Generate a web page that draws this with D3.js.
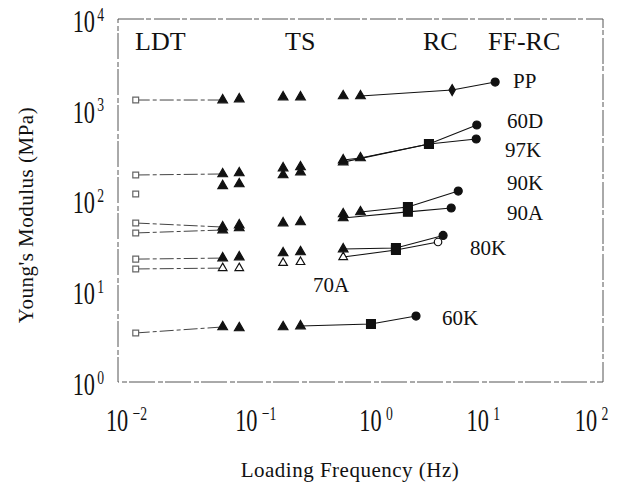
<!DOCTYPE html>
<html>
<head>
<meta charset="utf-8">
<script src="https://cdn.jsdelivr.net/npm/d3@7"></script>
<style>
  body { margin: 0; background: #fff; }
  text { font-family: "Liberation Serif", "DejaVu Serif", serif; fill: #111; }
</style>
</head>
<body>
<div id="chart"></div>
<script>
// ticks
const xTicks = [1e-2, 1e-1, 1, 10, 100];
const yTicks = [1, 10, 100, 1000, 10000];
const xExp = ["−2", "−1", "0", "1", "2"];
const yExp = ["0", "1", "2", "3", "4"];

// test methods shown on top
const methods = ["LDT", "TS", "RC", "FF-RC"];

// series: [frequency Hz, modulus MPa, test]
const seriesNames = ["PP", "60D", "97K", "90K", "90A", "80K", "70A", "60K"];
const pp  = [[0.014,1280,"LDT"],[0.073,1280,"TS"],[0.10,1313,"TS"],[0.23,1381,"TS"],[0.32,1381,"TS"],[0.72,1418,"TS"],[1.0,1418,"TS"],[5.7,1650,"RCd"],[12.9,2020,"FF"]];
const d60 = [[0.014,191,"LDT"],[0.073,196,"TS"],[0.10,201,"TS"],[0.23,228,"TS"],[0.32,234,"TS"],[0.72,279,"TS"],[1.0,294,"TS"],[3.67,420,"RC"],[9.1,679,"FF"]];
const k97 = [[0.014,118,"LDT"],[0.073,145,"TS"],[0.10,152,"TS"],[0.23,191,"TS"],[0.32,206,"TS"],[0.72,265,"TS"],[3.67,420,"RC"],[9.0,476,"FF"]];
const k90 = [[0.014,56.5,"LDT"],[0.073,51,"TS"],[0.10,53.7,"TS"],[0.23,56.5,"TS"],[0.32,58,"TS"],[0.72,71,"TS"],[1.0,74.7,"TS"],[2.46,84.8,"RC"],[6.4,127,"FF"]];
const a90 = [[0.014,43.9,"LDT"],[0.073,47.3,"TS"],[0.10,49.8,"TS"],[0.72,64.2,"TS"],[2.46,75,"RC"],[5.6,82.7,"FF"]];
const k80 = [[0.014,22.6,"LDT"],[0.073,23.2,"TS"],[0.10,23.8,"TS"],[0.23,26.4,"TS"],[0.32,27.1,"TS"],[0.72,29.2,"TS"],[1.96,30.0,"RC"],[4.8,41.2,"FF"]];
const a70 = [[0.014,17.6,"LDT"],[0.073,18,"TSo"],[0.10,18,"TSo"],[0.23,20.5,"TSo"],[0.32,21,"TSo"],[0.72,23.8,"TSo"],[1.96,28.5,"RC"],[4.36,34.9,"FFo"]];
const k60 = [[0.014,3.47,"LDT"],[0.073,4.04,"TS"],[0.10,3.94,"TS"],[0.23,4.04,"TS"],[0.32,4.14,"TS"],[1.22,4.36,"RC"],[2.87,5.33,"FF"]];
const seriesData = [pp, d60, k97, k90, a90, k80, a70, k60];
// solid RC line starts at this frequency; LDT joined to first TS point or not
const solidFrom = [1.0, 0.72, 0.72, 1.0, 0.72, 0.72, 0.72, 0.32];
const ldtLinked = [true, true, false, true, true, true, true, true];

// layout
const width = 620, height = 490;
const margin = ({top: 19, right: 17, bottom: 108, left: 118});
const methodPos = [[135, 50], [285, 50], [423, 50], [488, 50]];
const labelPos = [[513, 88], [507, 128], [505, 157], [507, 190], [507, 220], [470, 255], [313, 292], [442, 325]];
const xLabelDx = [8, 16, 15, 1, -12];

const svg = d3.select("#chart")
    .append("svg")
    .attr("width", width)
    .attr("height", height);

const x = d3.scaleLog()
    .domain([1e-2, 1e2])
    .range([margin.left, width - margin.right]);

const y = d3.scaleLog()
    .domain([1, 1e4])
    .range([height - margin.bottom, margin.top]);

// frame
svg.append("rect")
    .attr("x", x(1e-2))
    .attr("y", y(1e4))
    .attr("width", x(1e2) - x(1e-2))
    .attr("height", y(1) - y(1e4))
    .attr("fill", "none")
    .attr("stroke", "#555")
    .attr("stroke-width", 1)
    .attr("stroke-dasharray", "26,2,5,3");

// power-of-ten labels
function powLabels(g, exps, anchor, shifts) {
    g.selectAll(".tick text").each(function(d, i) {
        const t = d3.select(this).text(null)
            .attr("text-anchor", anchor)
            .attr("x", shifts ? shifts[i] / 0.72 : null)
            .attr("transform", "scale(0.72,1)")
            .style("font-size", "31px");
        t.append("tspan").text("10");
        t.append("tspan").text(exps[i])
            .attr("dy", "-0.6em")
            .attr("dx", anchor == "middle" ? "6" : "3")
            .style("font-size", "19px");
    });
}

svg.append("g")
    .attr("transform", `translate(0,${y(1) + 9})`)
    .call(d3.axisBottom(x).tickValues(xTicks).tickSize(0).tickPadding(18).tickFormat(""))
    .call(g => g.select(".domain").remove())
    .call(g => powLabels(g, xExp, "middle", xLabelDx));

svg.append("g")
    .attr("transform", `translate(${x(1e-2) - 14},0)`)
    .call(d3.axisLeft(y).tickValues(yTicks).tickSize(0).tickPadding(0).tickFormat(""))
    .call(g => g.select(".domain").remove())
    .call(g => g.selectAll(".tick text").attr("dy", "0.4em"))
    .call(g => powLabels(g, yExp, "end"));

// axis titles
svg.append("text")
    .attr("x", 350)
    .attr("y", 477)
    .attr("text-anchor", "middle")
    .style("font-size", "21px")
    .style("letter-spacing", "0.5px")
    .text("Loading Frequency (Hz)");

svg.append("text")
    .attr("transform", "translate(33,215) rotate(-90)")
    .attr("text-anchor", "middle")
    .style("font-size", "21px")
    .style("letter-spacing", "0.5px")
    .text("Young's Modulus (MPa)");

// method names
svg.selectAll(".method")
    .data(methods)
    .join("text")
    .attr("class", "method")
    .attr("x", (d, i) => methodPos[i][0])
    .attr("y", (d, i) => methodPos[i][1])
    .style("font-size", "26px")
    .text(d => d);

const line = d3.line()
    .x(d => x(d[0]))
    .y(d => y(d[1]));

seriesData.forEach((pts, i) => {
    const g = svg.append("g").attr("class", "series");

    // LDT -> first TS
    if (ldtLinked[i]) {
        g.append("path")
            .attr("d", line(pts.slice(0, 2)))
            .attr("fill", "none")
            .attr("stroke", "#444")
            .attr("stroke-width", 1)
            .attr("stroke-dasharray", "14,3,4,3");
    }

    // TS end -> RC -> FF-RC
    g.append("path")
        .attr("d", line(pts.filter(d => d[0] >= solidFrom[i] && d[2] != "LDT")))
        .attr("fill", "none")
        .attr("stroke", "#111")
        .attr("stroke-width", 1.1);

    const sym = {
        LDT: [d3.symbolSquare, 34, "#fff", "#666"],
        TS: [d3.symbolTriangle, 40, "#111", "#111"],
        TSo: [d3.symbolTriangle, 32, "#fff", "#111"],
        RC: [d3.symbolSquare, 78, "#111", "#111"],
        RCd: [d3.symbolDiamond, 34, "#111", "#111"],
        FF: [d3.symbolCircle, 50, "#111", "#111"],
        FFo: [d3.symbolCircle, 44, "#fff", "#111"]
    };

    g.selectAll(".pt")
        .data(pts)
        .join("path")
        .attr("class", "pt")
        .attr("transform", d => `translate(${x(d[0])},${y(d[1])})`)
        .attr("d", d => d3.symbol(sym[d[2]][0], sym[d[2]][1])())
        .attr("fill", d => sym[d[2]][2])
        .attr("stroke", d => sym[d[2]][3])
        .attr("stroke-width", 1.2);
});

// series names
svg.selectAll(".lbl")
    .data(seriesNames)
    .join("text")
    .attr("class", "lbl")
    .attr("x", (d, i) => labelPos[i][0])
    .attr("y", (d, i) => labelPos[i][1])
    .style("font-size", "21px")
    .text(d => d);
</script>
</body>
</html>
